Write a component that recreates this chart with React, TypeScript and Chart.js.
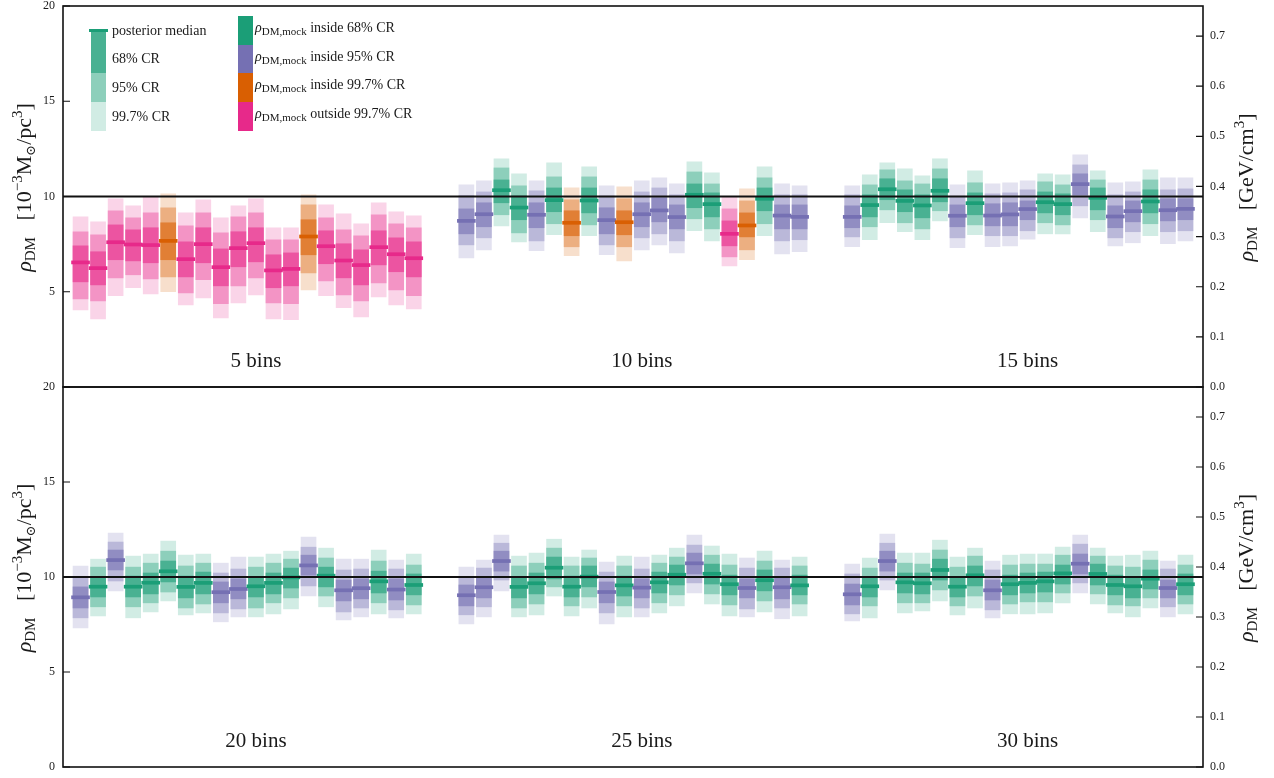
import React, { useEffect, useRef } from 'react';
import { Chart, registerables } from 'chart.js';

Chart.register(...registerables);

// ---------- data ----------
const TRUE_RHO = 10; // 10^-3 Msun/pc^3
const GEV_PER_UNIT = 0.038; // GeV/cm^3 per 10^-3 Msun/pc^3
const Y_MAX = 20;
const X_MIN = -1;
const X_MAX = 64;
const GROUP_STRIDE = 22;
const GROUP_LABEL_X = 10;
const GROUP_LABEL_Y = 1.05;
const LEFT_TICK_STEP = 5;
const RIGHT_TICK_STEP = 0.1;

const TOP_GROUPS = ['5 bins', '10 bins', '15 bins'];
const BOTTOM_GROUPS = ['20 bins', '25 bins', '30 bins'];

const LEGEND_CR = ['posterior median', '68% CR', '95% CR', '99.7% CR'];
const LEGEND_MOCK = ['inside 68% CR', 'inside 95% CR', 'inside 99.7% CR', 'outside 99.7% CR'];

// columns: upper 99.7%, upper 95%, upper 68%, median, lower 68%, lower 95%, lower 99.7%
const BINS_5 = [
  [8.93, 8.15, 7.41, 6.54, 5.52, 4.63, 4.05],
  [8.67, 7.99, 7.10, 6.24, 5.36, 4.52, 3.58],
  [9.88, 9.25, 8.51, 7.60, 6.68, 5.73, 4.79],
  [9.51, 8.88, 8.25, 7.48, 6.62, 5.89, 5.21],
  [9.98, 9.14, 8.36, 7.45, 6.52, 5.68, 4.89],
  [10.14, 9.41, 8.62, 7.67, 6.68, 5.78, 5.00],
  [9.14, 8.46, 7.62, 6.71, 5.78, 4.94, 4.31],
  [9.83, 9.14, 8.36, 7.50, 6.52, 5.63, 4.68],
  [8.88, 8.09, 7.25, 6.29, 5.31, 4.37, 3.63],
  [9.51, 8.93, 8.15, 7.29, 6.31, 5.31, 4.42],
  [9.88, 9.14, 8.36, 7.55, 6.57, 5.73, 4.84],
  [8.36, 7.73, 6.94, 6.12, 5.21, 4.42, 3.58],
  [8.36, 7.73, 7.04, 6.20, 5.31, 4.37, 3.53],
  [10.09, 9.56, 8.78, 7.90, 6.94, 5.99, 5.10],
  [9.56, 8.88, 8.20, 7.39, 6.47, 5.57, 4.79],
  [9.09, 8.25, 7.52, 6.64, 5.73, 4.84, 4.16],
  [8.57, 7.94, 7.20, 6.40, 5.36, 4.52, 3.68],
  [9.67, 9.04, 8.20, 7.34, 6.41, 5.47, 4.73],
  [9.20, 8.57, 7.83, 6.97, 6.05, 5.10, 4.31],
  [8.99, 8.36, 7.62, 6.76, 5.78, 4.79, 4.10],
];
const BINS_10 = [
  [10.61, 10.05, 9.35, 8.72, 8.04, 7.46, 6.78],
  [10.82, 10.24, 9.67, 9.07, 8.41, 7.83, 7.20],
  [11.98, 11.50, 10.87, 10.33, 9.67, 9.04, 8.46],
  [11.19, 10.56, 10.03, 9.42, 8.78, 8.09, 7.62],
  [10.82, 10.30, 9.67, 9.04, 8.36, 7.67, 7.15],
  [11.77, 11.03, 10.45, 9.81, 9.20, 8.57, 7.99],
  [10.45, 9.83, 9.25, 8.62, 7.94, 7.36, 6.89],
  [11.56, 11.03, 10.45, 9.79, 9.14, 8.51, 7.94],
  [10.56, 10.03, 9.41, 8.76, 8.04, 7.46, 6.94],
  [10.51, 9.88, 9.25, 8.65, 7.99, 7.36, 6.62],
  [10.82, 10.24, 9.67, 9.07, 8.41, 7.83, 7.20],
  [10.98, 10.45, 9.93, 9.27, 8.67, 8.04, 7.46],
  [10.66, 10.09, 9.56, 8.92, 8.30, 7.67, 7.04],
  [11.82, 11.29, 10.66, 10.09, 9.41, 8.83, 8.20],
  [11.24, 10.66, 10.19, 9.60, 8.93, 8.30, 7.67],
  [9.95, 9.35, 8.72, 8.04, 7.41, 6.83, 6.36],
  [10.40, 9.77, 9.14, 8.48, 7.88, 7.20, 6.68],
  [11.56, 10.98, 10.45, 9.88, 9.25, 8.57, 7.94],
  [10.66, 10.09, 9.56, 9.00, 8.30, 7.67, 6.99],
  [10.56, 10.09, 9.56, 8.93, 8.30, 7.73, 7.10],
];
const BINS_15 = [
  [10.56, 10.09, 9.51, 8.93, 8.36, 7.88, 7.36],
  [11.14, 10.61, 10.09, 9.55, 8.93, 8.41, 7.73],
  [11.77, 11.40, 10.93, 10.38, 9.83, 9.30, 8.62],
  [11.45, 10.82, 10.35, 9.77, 9.20, 8.62, 8.15],
  [11.08, 10.66, 10.09, 9.53, 8.88, 8.30, 7.73],
  [11.98, 11.45, 10.93, 10.30, 9.72, 9.25, 8.72],
  [10.61, 10.02, 9.56, 8.99, 8.41, 7.83, 7.31],
  [11.35, 10.72, 10.19, 9.65, 9.04, 8.51, 7.99],
  [10.66, 10.14, 9.62, 9.00, 8.46, 7.94, 7.36],
  [10.72, 10.19, 9.67, 9.06, 8.46, 7.94, 7.41],
  [10.82, 10.35, 9.77, 9.34, 8.78, 8.20, 7.76],
  [11.19, 10.77, 10.24, 9.70, 9.14, 8.62, 8.04],
  [11.14, 10.61, 10.14, 9.60, 9.04, 8.51, 8.04],
  [12.19, 11.66, 11.19, 10.65, 10.09, 9.51, 8.88],
  [11.35, 10.87, 10.45, 9.93, 9.30, 8.78, 8.15],
  [10.72, 10.09, 9.51, 8.95, 8.36, 7.83, 7.41],
  [10.77, 10.24, 9.77, 9.23, 8.67, 8.15, 7.57],
  [11.40, 10.87, 10.35, 9.74, 9.14, 8.57, 7.94],
  [10.98, 10.35, 9.88, 9.28, 8.72, 8.15, 7.52],
  [10.98, 10.40, 9.88, 9.35, 8.78, 8.20, 7.67],
];
const BINS_20 = [
  [10.58, 10.02, 9.48, 8.93, 8.37, 7.85, 7.32],
  [10.94, 10.52, 10.03, 9.49, 8.95, 8.43, 7.95],
  [12.31, 11.84, 11.42, 10.89, 10.37, 9.79, 9.27],
  [11.10, 10.52, 10.05, 9.49, 8.95, 8.43, 7.85],
  [11.21, 10.73, 10.21, 9.70, 9.11, 8.64, 8.16],
  [11.89, 11.36, 10.84, 10.30, 9.74, 9.21, 8.74],
  [11.15, 10.58, 10.05, 9.48, 8.90, 8.37, 8.01],
  [11.21, 10.73, 10.26, 9.69, 9.11, 8.58, 8.11],
  [10.73, 10.21, 9.74, 9.20, 8.64, 8.11, 7.64],
  [11.05, 10.42, 9.90, 9.37, 8.85, 8.32, 7.90],
  [11.05, 10.52, 10.02, 9.51, 8.95, 8.37, 7.90],
  [11.21, 10.73, 10.21, 9.69, 9.11, 8.64, 8.06],
  [11.36, 10.94, 10.47, 9.98, 9.42, 8.90, 8.32],
  [12.10, 11.57, 11.15, 10.61, 10.10, 9.53, 9.00],
  [11.52, 11.00, 10.52, 10.07, 9.48, 9.00, 8.43],
  [10.94, 10.37, 9.84, 9.30, 8.74, 8.16, 7.74],
  [10.94, 10.42, 9.90, 9.41, 8.85, 8.37, 7.90],
  [11.42, 10.84, 10.31, 9.77, 9.16, 8.64, 8.06],
  [10.89, 10.42, 9.90, 9.34, 8.79, 8.27, 7.85],
  [11.21, 10.63, 10.16, 9.58, 9.06, 8.53, 8.06],
];
const BINS_25 = [
  [10.52, 10.02, 9.58, 9.04, 8.48, 8.01, 7.53],
  [10.89, 10.47, 9.95, 9.46, 8.90, 8.43, 7.90],
  [12.20, 11.78, 11.36, 10.84, 10.31, 9.84, 9.27],
  [11.10, 10.58, 10.02, 9.48, 8.90, 8.37, 7.90],
  [11.26, 10.73, 10.21, 9.67, 9.11, 8.58, 8.01],
  [11.99, 11.52, 11.05, 10.49, 9.90, 9.48, 9.00],
  [11.05, 10.58, 10.05, 9.49, 8.95, 8.48, 7.95],
  [11.42, 11.00, 10.58, 10.02, 9.48, 8.95, 8.37],
  [10.79, 10.26, 9.74, 9.21, 8.64, 8.11, 7.53],
  [11.10, 10.58, 10.05, 9.56, 9.00, 8.48, 7.90],
  [11.05, 10.42, 9.90, 9.44, 8.90, 8.37, 7.90],
  [11.15, 10.73, 10.26, 9.72, 9.16, 8.64, 8.11],
  [11.52, 11.05, 10.63, 10.12, 9.58, 9.06, 8.48],
  [12.20, 11.68, 11.26, 10.72, 10.16, 9.69, 9.16],
  [11.63, 11.15, 10.68, 10.17, 9.63, 9.11, 8.58],
  [11.21, 10.63, 10.10, 9.62, 9.06, 8.53, 7.95],
  [11.00, 10.47, 9.90, 9.42, 8.90, 8.32, 7.90],
  [11.36, 10.84, 10.37, 9.83, 9.27, 8.74, 8.16],
  [10.89, 10.47, 9.95, 9.46, 8.85, 8.37, 7.80],
  [11.05, 10.58, 10.10, 9.56, 9.06, 8.58, 7.95],
];
const BINS_30 = [
  [10.68, 10.16, 9.63, 9.09, 8.53, 8.06, 7.69],
  [11.00, 10.47, 10.02, 9.51, 8.95, 8.48, 7.85],
  [12.26, 11.78, 11.36, 10.84, 10.31, 9.84, 9.32],
  [11.26, 10.73, 10.21, 9.72, 9.16, 8.64, 8.11],
  [11.26, 10.68, 10.21, 9.67, 9.11, 8.64, 8.22],
  [11.94, 11.42, 10.94, 10.37, 9.84, 9.32, 8.74],
  [11.05, 10.52, 10.02, 9.49, 8.95, 8.48, 8.01],
  [11.52, 11.10, 10.58, 10.09, 9.53, 9.00, 8.37],
  [10.84, 10.37, 9.84, 9.30, 8.79, 8.27, 7.85],
  [11.15, 10.63, 10.10, 9.62, 9.06, 8.58, 8.06],
  [11.21, 10.68, 10.21, 9.69, 9.16, 8.69, 8.06],
  [11.21, 10.68, 10.26, 9.77, 9.21, 8.69, 8.11],
  [11.57, 11.15, 10.63, 10.19, 9.63, 9.16, 8.64],
  [12.20, 11.73, 11.21, 10.70, 10.16, 9.69, 9.16],
  [11.52, 11.10, 10.68, 10.16, 9.58, 9.11, 8.58],
  [11.10, 10.58, 10.10, 9.58, 9.06, 8.53, 8.11],
  [11.15, 10.52, 10.02, 9.51, 8.90, 8.48, 7.90],
  [11.36, 10.89, 10.37, 9.91, 9.37, 8.90, 8.37],
  [10.84, 10.42, 9.84, 9.42, 8.90, 8.43, 7.90],
  [11.15, 10.63, 10.16, 9.62, 9.06, 8.58, 8.06],
];

// mock value status per realisation: g = inside 68%, p = inside 95%, o = inside 99.7%, k = outside 99.7%
const STATUS_5 = 'kkkkkokkkkkkkokkkkkk';
const STATUS_10 = 'ppggpgogpopppggkogpp';
const STATUS_15 = 'pgggggpgpppggpgppgpp';
const STATUS_20 = 'pgpgggggppgggpgppgpg';
const STATUS_25 = 'pppgggggpgpggpggpgpg';
const STATUS_30 = 'pgpgggggpggggpggggpg';

// ---------- styling ----------
const SERIF = '"Liberation Serif", "DejaVu Serif", serif';
const PALETTE: Record<string, string> = { g: '#1b9e77', p: '#7570b3', o: '#d95f02', k: '#e7298a' };
const TEXT = '#1a1a1a';

function tint(hex: string, a: number) {
  const n = parseInt(hex.slice(1), 16);
  const m = (c: number) => Math.round(255 - (255 - c) * a);
  return `rgb(${m((n >> 16) & 255)},${m((n >> 8) & 255)},${m(n & 255)})`;
}

type Part = { t: string; s: number; dy?: number; i?: boolean };
const fontOf = (p: Part) => `${p.i ? 'italic ' : ''}${p.s}px ${SERIF}`;

function drawRich(ctx: CanvasRenderingContext2D, parts: Part[], x: number, y: number, rotate: boolean) {
  const widths = parts.map((pt) => {
    ctx.font = fontOf(pt);
    return ctx.measureText(pt.t).width;
  });
  const total = widths.reduce((s, w) => s + w, 0);
  ctx.save();
  ctx.translate(x, y);
  if (rotate) ctx.rotate(-Math.PI / 2);
  ctx.textAlign = 'left';
  ctx.textBaseline = 'alphabetic';
  ctx.fillStyle = TEXT;
  let cx = rotate ? -total / 2 : 0;
  parts.forEach((pt, i) => {
    ctx.font = fontOf(pt);
    ctx.fillText(pt.t, cx, pt.dy || 0);
    cx += widths[i];
  });
  ctx.restore();
}

const LEFT_TITLE: Part[] = [
  { t: 'ρ', s: 22, i: true },
  { t: 'DM', s: 15, dy: 4 },
  { t: '   ', s: 22 },
  { t: '[10', s: 22 },
  { t: '−3', s: 15, dy: -9 },
  { t: 'M', s: 22 },
  { t: '⊙', s: 13, dy: 4 },
  { t: '/pc', s: 22 },
  { t: '3', s: 15, dy: -9 },
  { t: ']', s: 22 },
];
const RIGHT_TITLE: Part[] = [
  { t: 'ρ', s: 22, i: true },
  { t: 'DM', s: 15, dy: 4 },
  { t: '   ', s: 22 },
  { t: '[GeV/cm', s: 22 },
  { t: '3', s: 15, dy: -9 },
  { t: ']', s: 22 },
];

function buildDatasets(groups: number[][][], statuses: string[]) {
  const pts: { x: number; r: number[]; s: string }[] = [];
  groups.forEach((rows, g) =>
    rows.forEach((r, i) => pts.push({ x: g * GROUP_STRIDE + i, r, s: statuses[g][i] }))
  );
  const layer = (hi: number, lo: number, alpha: number, order: number) => ({
    type: 'bar' as const,
    data: pts.map((p) => ({ x: p.x, y: [p.r[lo], p.r[hi]] })),
    backgroundColor: pts.map((p) => tint(PALETTE[p.s], alpha)),
    barThickness: 15,
    grouped: false,
    borderWidth: 0,
    order,
  });
  return [
    {
      type: 'line' as const,
      data: [
        { x: X_MIN, y: TRUE_RHO },
        { x: X_MAX, y: TRUE_RHO },
      ],
      borderColor: '#111',
      borderWidth: 1.8,
      pointRadius: 0,
      order: 0,
    },
    {
      type: 'bar' as const,
      data: pts.map((p) => ({ x: p.x, y: [p.r[3] - 0.08, p.r[3] + 0.08] })),
      backgroundColor: pts.map((p) => PALETTE[p.s]),
      barThickness: 18,
      grouped: false,
      borderWidth: 0,
      order: 1,
    },
    layer(2, 4, 0.8, 2),
    layer(1, 5, 0.5, 3),
    layer(0, 6, 0.2, 4),
  ];
}

function drawLegend(ctx: CanvasRenderingContext2D, L: number, T: number) {
  const g = PALETTE.g;
  ctx.fillStyle = tint(g, 0.8);
  ctx.fillRect(L + 28, T + 25, 15, 42);
  ctx.fillStyle = tint(g, 0.5);
  ctx.fillRect(L + 28, T + 67, 15, 29);
  ctx.fillStyle = tint(g, 0.2);
  ctx.fillRect(L + 28, T + 96, 15, 29);
  ctx.fillStyle = g;
  ctx.fillRect(L + 26, T + 23, 19, 3);
  ctx.font = `14px ${SERIF}`;
  ctx.fillStyle = TEXT;
  ctx.textAlign = 'left';
  ctx.textBaseline = 'alphabetic';
  LEGEND_CR.forEach((t, i) => ctx.fillText(t, L + 49, T + 28.7 + i * 28.7));
  ['g', 'p', 'o', 'k'].forEach((s, i) => {
    ctx.fillStyle = PALETTE[s];
    const y0 = Math.round(T + 10 + i * 28.7);
    const y1 = Math.round(T + 10 + (i + 1) * 28.7);
    ctx.fillRect(L + 175, y0, 15, y1 - y0);
    drawRich(
      ctx,
      [
        { t: 'ρ', s: 14, i: true },
        { t: 'DM,mock', s: 11, dy: 3 },
        { t: ' ' + LEGEND_MOCK[i], s: 14 },
      ],
      L + 192,
      T + 26 + i * 28.7,
      false
    );
  });
}

type PanelProps = {
  groups: number[][][];
  statuses: string[];
  labels: string[];
  hideZero: boolean;
  legend: boolean;
  top: number;
  height: number;
};

function Panel(p: PanelProps) {
  const ref = useRef<HTMLCanvasElement>(null);
  useEffect(() => {
    const decor = {
      id: 'decor',
      afterDatasetsDraw(chart: any) {
        const ctx: CanvasRenderingContext2D = chart.ctx;
        const a = chart.chartArea;
        const xs = chart.scales.x;
        const ys = chart.scales.y;
        const yr = chart.scales.yr;
        ctx.save();
        ctx.strokeStyle = '#111';
        ctx.lineWidth = 1.6;
        ctx.strokeRect(a.left, a.top, a.right - a.left, a.bottom - a.top);
        ctx.lineWidth = 1.2;
        ctx.beginPath();
        ys.ticks.forEach((t: any) => {
          const y = ys.getPixelForValue(t.value);
          ctx.moveTo(a.left, y);
          ctx.lineTo(a.left + 7, y);
        });
        yr.ticks.forEach((t: any) => {
          const y = yr.getPixelForValue(t.value);
          ctx.moveTo(a.right - 7, y);
          ctx.lineTo(a.right, y);
        });
        ctx.stroke();
        ctx.font = `21px ${SERIF}`;
        ctx.textAlign = 'center';
        ctx.textBaseline = 'alphabetic';
        ctx.fillStyle = TEXT;
        p.labels.forEach((lab, g) =>
          ctx.fillText(
            lab,
            xs.getPixelForValue(g * GROUP_STRIDE + GROUP_LABEL_X),
            ys.getPixelForValue(GROUP_LABEL_Y)
          )
        );
        const cy = (a.top + a.bottom) / 2 - 9;
        drawRich(ctx, LEFT_TITLE, 31, cy, true);
        drawRich(ctx, RIGHT_TITLE, 1253, cy, true);
        if (p.legend) drawLegend(ctx, a.left, a.top);
        ctx.restore();
      },
    };
    const tickFont = { family: SERIF, size: 12, lineHeight: 1 };
    const chart = new Chart(ref.current as HTMLCanvasElement, {
      type: 'bar',
      data: { datasets: buildDatasets(p.groups, p.statuses) as any },
      options: {
        responsive: false,
        animation: false,
        devicePixelRatio: 1,
        layout: { padding: 0 },
        plugins: { legend: { display: false }, tooltip: { enabled: false } },
        scales: {
          x: { type: 'linear', min: X_MIN, max: X_MAX, offset: false, display: false },
          y: {
            type: 'linear',
            position: 'left',
            min: 0,
            max: Y_MAX,
            afterFit: (s: any) => {
              s.width = 63;
            },
            grid: { display: false, drawTicks: false },
            border: { display: false },
            ticks: {
              stepSize: LEFT_TICK_STEP,
              padding: 8,
              color: TEXT,
              font: tickFont,
              autoSkip: false,
              callback: (v: any) => (p.hideZero && Number(v) === 0 ? '' : String(v)),
            },
          },
          yr: {
            type: 'linear',
            position: 'right',
            min: 0,
            max: Y_MAX * GEV_PER_UNIT,
            afterFit: (s: any) => {
              s.width = 71;
            },
            grid: { display: false, drawTicks: false },
            border: { display: false },
            ticks: {
              stepSize: RIGHT_TICK_STEP,
              includeBounds: false,
              padding: 7,
              color: TEXT,
              font: tickFont,
              autoSkip: false,
              callback: (v: any) => Number(v).toFixed(1),
            },
          },
        },
      } as any,
      plugins: [decor],
    });
    return () => chart.destroy();
  }, []);
  return (
    <canvas
      ref={ref}
      width={1274}
      height={p.height}
      style={{ position: 'absolute', left: 0, top: p.top, width: 1274, height: p.height }}
    />
  );
}

export default function App() {
  return (
    <div
      style={{
        position: 'absolute',
        left: 0,
        top: 0,
        width: 1274,
        height: 778,
        overflow: 'hidden',
        background: '#fff',
      }}
    >
      <Panel
        groups={[BINS_5, BINS_10, BINS_15]}
        statuses={[STATUS_5, STATUS_10, STATUS_15]}
        labels={TOP_GROUPS}
        hideZero={true}
        legend={true}
        top={-8}
        height={409}
      />
      <Panel
        groups={[BINS_20, BINS_25, BINS_30]}
        statuses={[STATUS_20, STATUS_25, STATUS_30]}
        labels={BOTTOM_GROUPS}
        hideZero={false}
        legend={false}
        top={373}
        height={408}
      />
    </div>
  );
}
